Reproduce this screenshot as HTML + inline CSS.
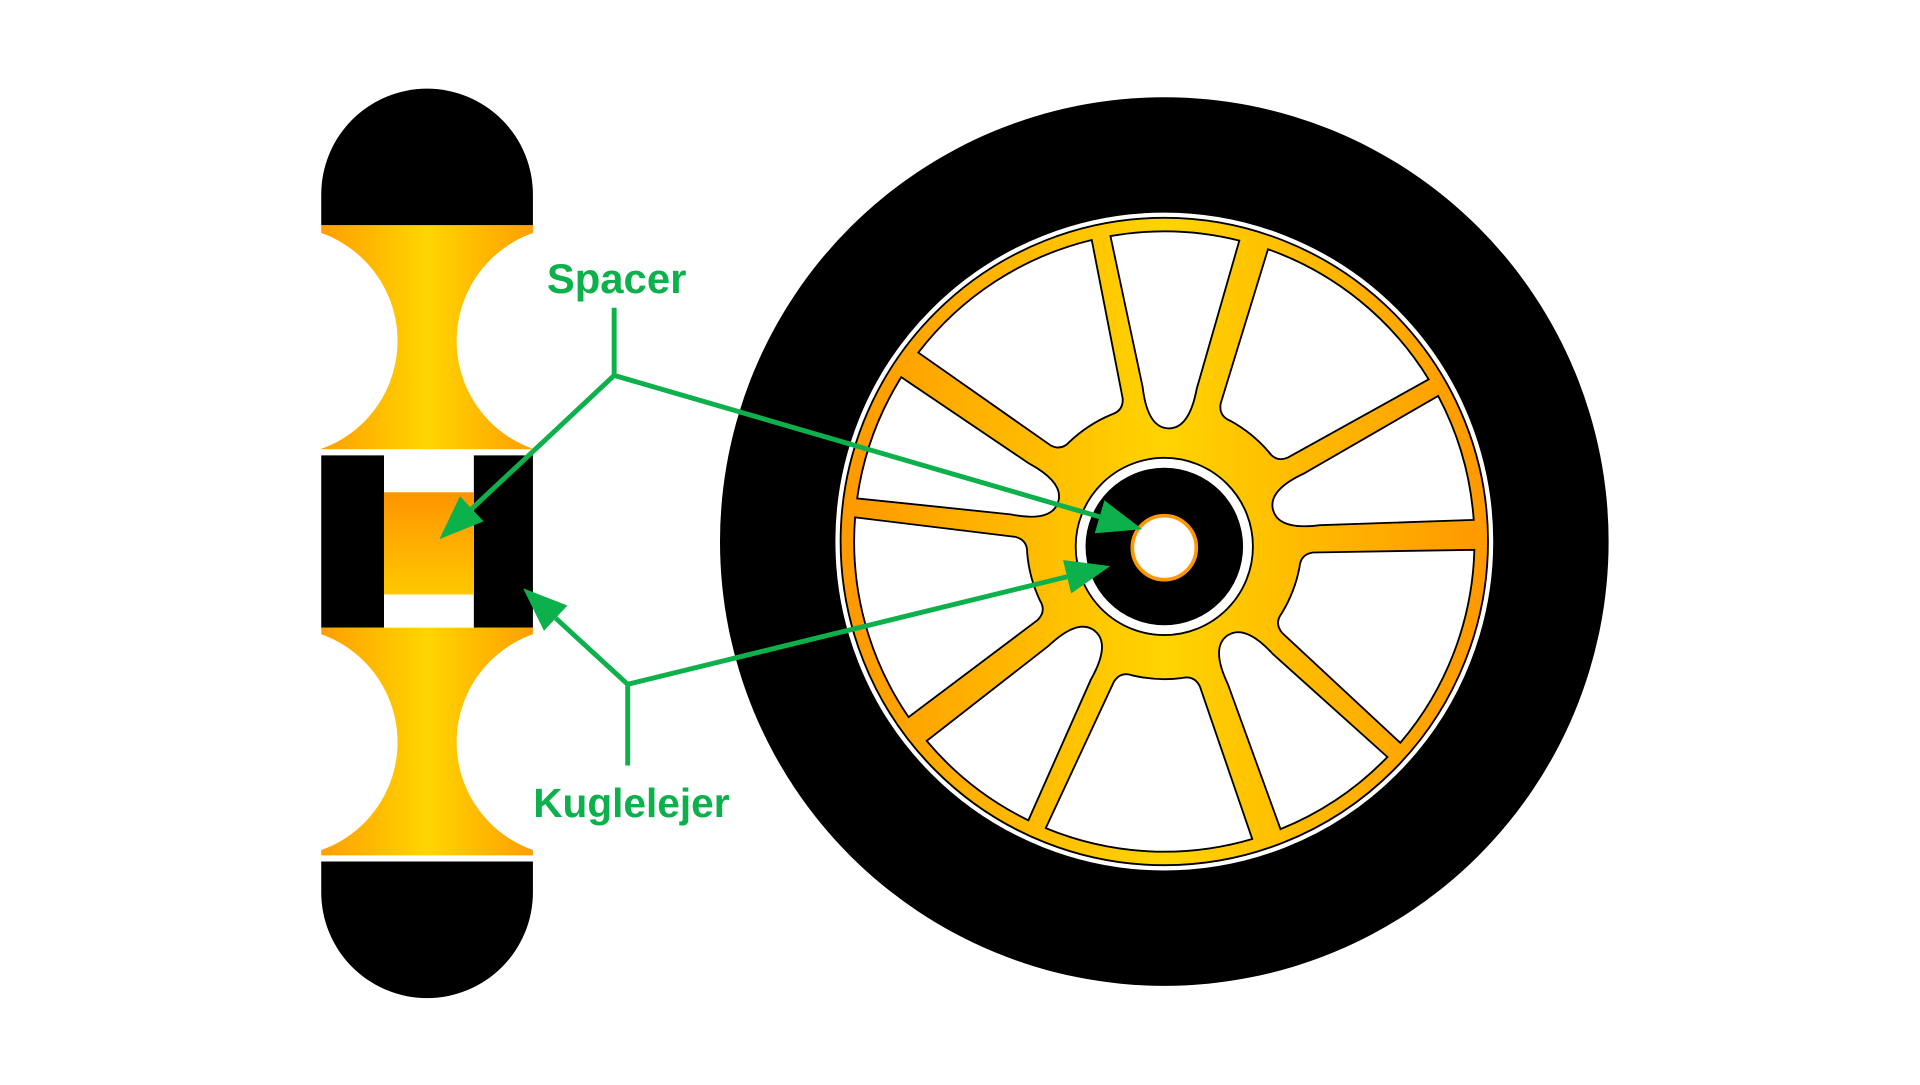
<!DOCTYPE html>
<html><head><meta charset="utf-8"><style>html,body{margin:0;padding:0;background:#fff;overflow:hidden}</style></head>
<body>
<svg width="1920" height="1080" viewBox="0 0 1560 877.5" xmlns="http://www.w3.org/2000/svg">
<defs>
<linearGradient id="gb" gradientUnits="userSpaceOnUse" x1="261" y1="0" x2="433" y2="0">
<stop offset="0" stop-color="#ff9f00"/><stop offset="0.5" stop-color="#ffd500"/><stop offset="1" stop-color="#ff9f00"/></linearGradient>
<linearGradient id="gs" gradientUnits="userSpaceOnUse" x1="0" y1="400" x2="0" y2="483">
<stop offset="0" stop-color="#ff9400"/><stop offset="1" stop-color="#ffc800"/></linearGradient>
<linearGradient id="gw" gradientUnits="userSpaceOnUse" x1="683" y1="0" x2="1209" y2="0">
<stop offset="0" stop-color="#ff9800"/><stop offset="0.5" stop-color="#ffd400"/><stop offset="1" stop-color="#ff9800"/></linearGradient>
<path id="nw" d="M -52.4 -246.5 A 252 252 0 0 1 52.4 -246.5 L 22 -125 Q 17 -92 0 -92 Q -17 -92 -22 -125 Z" fill="#fff" stroke="#000" stroke-width="1.5"/>
<path id="ww" d="M -84 -237.6 A 252 252 0 0 1 84 -237.6 L 35 -116 Q 30 -107 20 -110 A 112 112 0 0 0 -20 -110 Q -30 -107 -35 -116 Z" fill="#fff" stroke="#000" stroke-width="1.5"/>
</defs>

<!-- bearing -->
<path d="M261 183 V158 A86 86 0 0 1 433 158 V183 Z" fill="#000"/>
<rect x="261" y="183" width="172" height="182" fill="url(#gb)"/>
<circle cx="230" cy="277" r="93" fill="#fff"/>
<circle cx="464" cy="277" r="93" fill="#fff"/>
<rect x="261" y="370" width="51" height="140" fill="#000"/>
<rect x="385" y="370" width="48" height="140" fill="#000"/>
<rect x="312" y="400" width="73" height="83" fill="url(#gs)"/>
<rect x="261" y="510" width="172" height="185" fill="url(#gb)"/>
<circle cx="230" cy="603" r="93" fill="#fff"/>
<circle cx="464" cy="603" r="93" fill="#fff"/>
<path d="M261 700 H433 V725 A86 86 0 0 1 261 725 Z" fill="#000"/>

<!-- wheel -->
<circle cx="946" cy="440" r="361" fill="#000"/>
<circle cx="946" cy="440" r="268" fill="#fff" stroke="#000" stroke-width="1.5"/>
<circle cx="946" cy="440" r="263" fill="url(#gw)" stroke="#000" stroke-width="1.5"/>
<g transform="translate(946,440)">
<use href="#nw" transform="rotate(2)"/>
<use href="#nw" transform="rotate(74)"/>
<use href="#nw" transform="rotate(146)"/>
<use href="#nw" transform="rotate(218)"/>
<use href="#nw" transform="rotate(290)"/>
<use href="#ww" transform="rotate(39)"/>
<use href="#ww" transform="rotate(111)"/>
<use href="#ww" transform="rotate(183)"/>
<use href="#ww" transform="rotate(255)"/>
<use href="#ww" transform="rotate(327)"/>
</g>
<circle cx="946" cy="444" r="72" fill="#fff" stroke="#000" stroke-width="1.5"/>
<circle cx="946" cy="444" r="64" fill="#000"/>
<circle cx="946" cy="445" r="26" fill="#fff" stroke="#ff9800" stroke-width="3"/>

<!-- green connectors -->
<g stroke="#0db14b" stroke-width="4" fill="none">
<polyline points="499,250 499,305 383.3,413.4"/>
<line x1="499" y1="305" x2="893.4" y2="419.9"/>
<polyline points="510,622 510,556 451.5,502.3"/>
<line x1="510" y1="556" x2="867" y2="468.6"/>
</g>
<g fill="#0db14b">
<polygon points="357,438 373.7,403.2 392.9,423.6"/>
<polygon points="928,430 889.5,433.3 897.3,406.5"/>
<polygon points="425,478 461,492 442,512.6"/>
<polygon points="902,460 870.3,482.2 863.7,455"/>
</g>
<g font-family="'Liberation Sans', sans-serif" font-weight="bold" fill="#0db14b" text-anchor="middle">
<text x="501" y="238" font-size="34">Spacer</text>
<text x="513" y="664" font-size="33">Kuglelejer</text>
</g>
</svg>
</body></html>
